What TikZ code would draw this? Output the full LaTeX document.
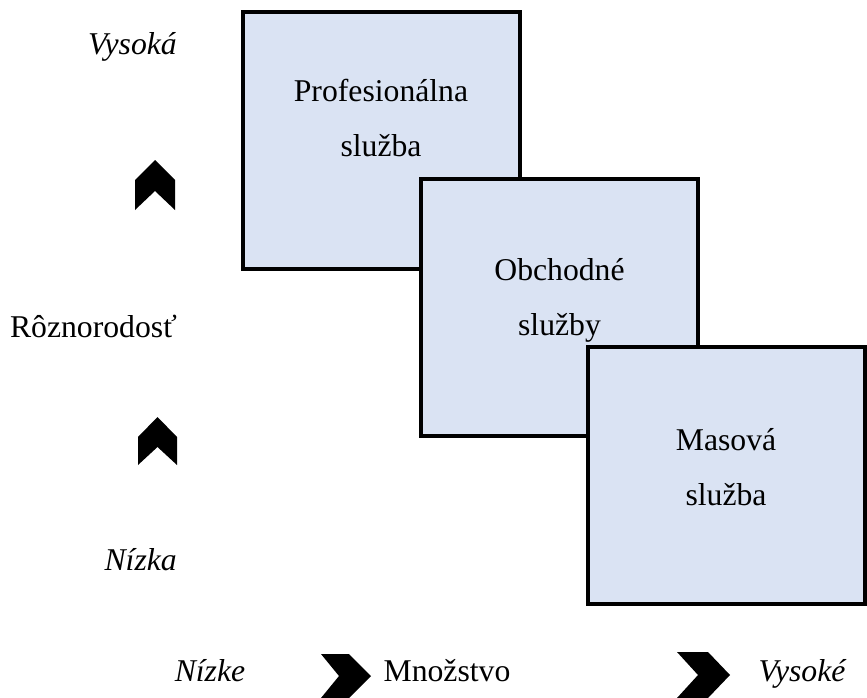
\documentclass[tikz,border=0pt]{standalone}
\usepackage{fontspec}
\setmainfont{Liberation Serif}
\begin{document}
\begin{tikzpicture}[x=1pt,y=-1pt,
  svcbox/.style={draw=black, line width=4pt, fill=boxblue, inner sep=0pt, outer sep=0pt,
                 minimum width=277pt, minimum height=257pt},
  boxtext/.style={inner sep=0pt, anchor=base, font=\fontsize{31.7pt}{38pt}\selectfont},
  axislabel/.style={inner sep=0pt, anchor=base east, font=\fontsize{31.7pt}{38pt}\selectfont},
  bottomlabel/.style={inner sep=0pt, anchor=base, font=\fontsize{31.7pt}{38pt}\selectfont},
  chev/.style={fill=black}]
\definecolor{boxblue}{HTML}{DAE3F3}
\useasboundingbox (0,0) rectangle (867,698);

% three overlapping service boxes
\node[svcbox] (pro) at (381,140.5) {};
\node[svcbox] (obch) at (559.5,307.8) {};
\node[svcbox] (mas) at (726,475) {};

% box captions
\node[boxtext] (proA) at ([yshift=-90pt]pro.north) {Profesionálna};
\node[boxtext] (proB) at ([yshift=-145pt]pro.north) {služba};
\node[boxtext] (obchA) at ([yshift=-101pt]obch.north) {Obchodné};
\node[boxtext] (obchB) at ([yshift=-156pt]obch.north) {služby};
\node[boxtext] (masA) at ([yshift=-103.5pt]mas.north) {Masová};
\node[boxtext] (masB) at ([yshift=-158.5pt]mas.north) {služba};

% vertical axis
\node[axislabel] (vys) at (177,55) {\itshape Vysoká};
\node[axislabel] (roz) at (177,337) {Rôznorodosť};
\node[axislabel] (niz) at (177,570) {\itshape Nízka};
\fill[chev] (155,160) -- (175,180) -- (175,210) -- (155,191) -- (135,210) -- (135,180) -- cycle;
\fill[chev] (157.5,417) -- (177,437) -- (177,465) -- (157.5,447) -- (138,465) -- (138,437) -- cycle;

% horizontal axis
\node[bottomlabel] (nizke) at (210,681) {\itshape Nízke};
\node[bottomlabel] (mnoz) at (447,681) {Množstvo};
\node[bottomlabel] (vysoke) at (802,681) {\itshape Vysoké};
\fill[chev] (321,654) -- (349,654) -- (371,676) -- (349,698) -- (321,698) -- (339,676) -- cycle;
\fill[chev] (677,652) -- (708,652) -- (730,675) -- (708,698) -- (677,698) -- (698,675) -- cycle;
\end{tikzpicture}
\end{document}
